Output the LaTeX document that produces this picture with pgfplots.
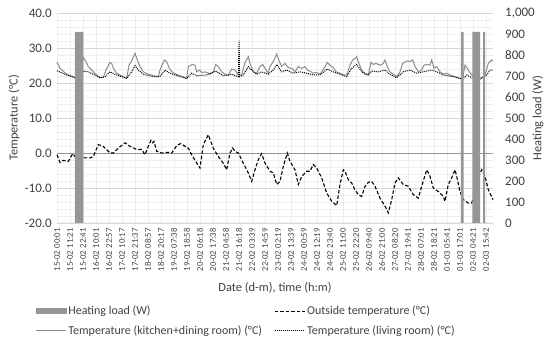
\documentclass[border=0pt]{standalone}
\usepackage{fontspec}
\setmainfont{Carlito}
\usepackage{pgfplots}
\pgfplotsset{compat=1.18}
\definecolor{txt}{RGB}{64,64,64}
\definecolor{kitchen}{RGB}{140,140,140}
\definecolor{heat}{RGB}{150,150,150}
\definecolor{majgrid}{RGB}{215,215,215}
\definecolor{mingrid}{RGB}{238,238,238}
\definecolor{zeroline}{RGB}{150,150,150}
\newcommand{\tsp}{\hspace{2.8pt}}
\pgfplotsset{
  common/.style={
    scale only axis, width=436pt, height=210pt, xmin=0, xmax=436,
    axis line style={draw=none}, tick style={draw=none},
    /pgf/number format/assume math mode=true,
    tick label style={font=\fontsize{13}{15}\selectfont, text=txt},
    label style={font=\fontsize{12.4}{14}\selectfont, text=txt},
    clip=false,
  }
}
\begin{document}
\begin{tikzpicture}
\useasboundingbox (-57pt,-120pt) rectangle (493pt,223pt);
\begin{axis}[common,
  ymin=-20, ymax=40, ytick={-20,-10,...,40}, minor y tick num=4,
  yticklabel style={anchor=east, inner sep=0pt, xshift=-5pt, /pgf/number format/.cd, fixed, fixed zerofill, precision=1},
  xtick={0,13,...,429},
  minor xtick={0,13,...,429},
  xticklabels={15-02\tsp00:01, 15-02\tsp11:21, 15-02\tsp22:41, 16-02\tsp10:01, 16-02\tsp22:57, 17-02\tsp10:17, 17-02\tsp21:37, 18-02\tsp08:57, 18-02\tsp20:17, 19-02\tsp07:38, 19-02\tsp18:58, 20-02\tsp06:18, 20-02\tsp17:38, 21-02\tsp04:58, 21-02\tsp16:18, 22-02\tsp03:39, 22-02\tsp14:59, 23-02\tsp02:19, 23-02\tsp13:39, 24-02\tsp00:59, 24-02\tsp12:19, 24-02\tsp23:40, 25-02\tsp11:00, 25-02\tsp22:20, 26-02\tsp09:40, 26-02\tsp21:00, 27-02\tsp08:20, 27-02\tsp19:41, 28-02\tsp07:01, 28-02\tsp18:21, 01-03\tsp05:41, 01-03\tsp17:01, 02-03\tsp04:21, 02-03\tsp15:42},
  xticklabel style={yshift=-5pt, rotate=90, anchor=east, inner sep=0pt, font=\fontsize{8.7}{10}\selectfont},
  ymajorgrids, yminorgrids, xminorgrids,
  major grid style={draw=majgrid, line width=0.8pt},
  minor grid style={draw=mingrid, line width=0.8pt},
  extra y ticks={0}, extra y tick labels={},
  extra y tick style={grid=major, major grid style={draw=zeroline, line width=0.9pt}},
  ylabel={Temperature (°C)},
  every axis y label/.style={at={(axis description cs:-0.0986,0.5)}, anchor=center, rotate=90, font=\fontsize{12.4}{14}\selectfont, text=txt},
  xlabel={Date (d-m), time (h:m)},
  xlabel style={at={(axis description cs:0.5,-0.31)}, anchor=center},
  legend image code/.code={\draw[#1] (0pt,0pt) -- (30pt,0pt);},
  legend style={at={(axis description cs:-0.05,-0.385)}, anchor=north west, draw=none, fill=none,
    font=\fontsize{12}{14}\selectfont, text=txt, inner sep=0pt, row sep=5.5pt,
    /tikz/every even column/.append style={column sep=10pt}},
  legend columns=2, legend cell align=left,
]
\addlegendimage{legend image code/.code={\fill[heat] (0pt,-2.5pt) rectangle (30pt,2.5pt);}}
\addlegendentry{Heating load (W)}
\addplot[black, line width=1.1pt, dash pattern=on 3.5pt off 2pt] coordinates {
(0,-0.5) (3,-2.7) (6.3,-2.1) (11.3,-2.4) (15.7,-0.2) (18,-1.0) (23,-1.1) (28,-1.4) (33,-1.4) (36.3,-1.0)
(41.3,2.4) (46.3,1.9) (53,0) (56.3,0) (61.3,1.4) (68,2.9) (73,1.9) (79.7,1.0) (84.7,1.0) (88,-0.5)
(91.3,1.9) (94,3.6) (95.7,2.9) (97,3.3) (99.7,0.5) (104.7,0) (111.3,0.2) (114.7,0) (119.7,2.1) (123.7,2.7)
(128,1.9) (131.3,1.4) (134.7,-0.5) (139.7,-2.9) (143,-4.3) (146.3,2.4) (151.3,5.2) (156.3,1.4) (161.3,-1.0) (166.3,-2.9)
(169.7,-4.8) (173,0) (175.7,1.4) (178,0.5) (181.3,0) (186.3,-2.9) (191.3,-5.7) (194.7,-8.1) (198,-4.8) (201.3,-1.9)
(204.7,-0.2) (208,-2.9) (213,-5.2) (216.3,-5.7) (219.7,-9.0) (223,-8.1) (226.3,-3.8) (230.3,0) (233,-2.4) (238,-4.8)
(241.3,-9.0) (244.7,-6.7) (249.7,-5.2) (253,-5.2) (256.3,-3.3) (259.7,-4.3) (264.7,-7.1) (269.7,-11.4) (274.7,-13.8) (279.7,-15.0)
(283,-9.0) (286.3,-4.8) (288,-5.2) (291.3,-7.6) (294.7,-8.6) (298,-10.5) (301.3,-11.9) (304.7,-12.4) (308,-9.5) (311.3,-8.4)
(314.7,-8.1) (318,-9.5) (323,-12.9) (328,-15.2) (331.3,-17.1) (334.7,-13.3) (338,-8.6) (341.3,-7.1) (346.3,-9.0) (351.3,-9.5)
(356.3,-11.9) (361.3,-12.9) (364.7,-9.5) (369.7,-4.8) (373,-6.7) (376.3,-10.0) (381.3,-11.0) (386.3,-12.4) (388,-13.8) (391.3,-9.0)
(394.7,-7.1) (398,-4.8) (399.7,-6.7) (403,-11.0) (406.3,-13.3) (411.3,-14.3) (414.7,-14.3) (418,-11.0) (421.3,-7.1) (424.7,-4.8)
(428,-6.7) (431.3,-10.5) (436,-13.3)};
\addlegendentry{Outside temperature (°C)}
\addplot[kitchen, line width=1pt] coordinates {
(0,25.9) (3,24.2) (9.7,22.5) (18,21.6) (21.3,21.8) (23.7,24.2) (26.3,27.3) (29,26.1) (31.3,24.7) (34.7,23.7)
(39.7,22.3) (43,21.5) (46.3,21.6) (49,23.7) (53,25.9) (54.7,25.6) (56.3,24.2) (59.7,22.8) (64.7,22.0) (69.7,21.3)
(72,25.1) (74.7,26.3) (78,28.5) (80.3,26.6) (83,24.7) (86.3,23.2) (91.3,22.5) (96.3,22.1) (101.3,21.8) (103,23.7)
(107.3,26.6) (109.7,26.1) (112.3,24.2) (116.3,22.8) (121.3,22.3) (126.3,21.8) (129.7,21.3) (131.3,24.7) (135.7,25.3) (138,25.1)
(139.7,23.2) (143,23.7) (144.7,23.0) (148,23.2) (151.3,22.8) (153,22.5) (156.3,23.2) (158.7,25.3) (161.3,24.7) (164.7,23.2)
(168,22.5) (171.3,22.1) (174.7,24.0) (178,23.7) (181.3,22.3) (184.7,22.3) (188,25.9) (191.3,27.5) (193,25.6) (196.3,23.2)
(199.7,22.8) (203,24.7) (205.7,25.3) (208,24.2) (211.3,22.8) (213,24.7) (216.3,26.1) (219.7,28.3) (222.3,26.1) (224.7,24.7)
(228,25.6) (231.3,24.4) (234.7,24.2) (238,23.2) (241.3,24.7) (244.7,24.2) (248,24.7) (250.3,23.7) (253,23.4) (256.3,22.8)
(259.7,23.0) (263,22.5) (264.7,23.2) (267.3,24.2) (270.3,25.9) (273,25.1) (276.3,24.4) (279,23.2) (283,22.8) (286.3,22.3)
(289.7,22.3) (293,25.1) (295.7,26.6) (298,27.0) (299.7,27.5) (301.3,26.1) (304.7,23.7) (308,22.5) (311.3,22.3) (314,25.9)
(316.3,25.3) (319,25.6) (321.3,25.3) (323.7,25.1) (326.3,25.6) (328,26.6) (330.3,24.7) (333,23.2) (336.3,22.5) (339.7,21.8)
(343,23.2) (345.7,25.6) (349.7,26.3) (353,26.1) (355.7,26.6) (358,24.7) (361.3,23.2) (364.7,23.7) (367,25.1) (369.7,25.3)
(373,25.1) (374.7,26.6) (377,24.2) (379.7,24.7) (383,23.2) (386.3,22.5) (389.7,22.8) (393,22.3) (398,21.8) (403,21.3)
(405.7,21.3) (408,25.1) (411.3,23.7) (414.7,22.3) (419.7,21.5) (424.7,21.5) (428,22.3) (431.3,25.6) (434.7,26.6) (436,26.3)};
\addlegendentry{Temperature (kitchen+dining room) (°C)}
\addplot[black, line width=1pt, dash pattern=on 1pt off 1pt] coordinates {
(0,23.5) (9.7,22.3) (18,21.5) (24.7,22.3) (26.3,23.4) (31.3,23.2) (36.3,22.5) (43,21.5) (48,21.8) (53,23.2)
(58,22.5) (69.7,21.3) (74.7,23.2) (78,25.0) (81.3,23.7) (86.3,22.5) (96.3,21.8) (103,21.8) (108,23.7) (113,22.8)
(123,21.8) (129.7,21.3) (134.7,22.8) (139.7,22.1) (149.7,22.3) (158.7,23.4) (166.3,22.1) (174.7,22.5) (181.3,21.8) (182.1,32.1)
(182.6,21.8) (186.3,22.3) (191.3,24.7) (194.7,23.7) (199.7,22.5) (204.7,23.2) (211.3,22.5) (216.3,23.7) (219.7,25.3) (224.7,23.2)
(229.7,23.7) (236.3,22.8) (243,23.2) (249.7,22.8) (256.3,22.3) (263,22.3) (270.3,24.0) (276.3,23.2) (289.7,21.8) (294.7,24.2)
(299.7,25.3) (304.7,23.2) (311.3,22.3) (314.7,23.4) (321.3,23.2) (328,23.7) (333,22.5) (339.7,21.5) (346.3,23.2) (353,23.7)
(359.7,22.8) (366.3,23.2) (374.7,23.7) (379.7,23.2) (386.3,22.3) (396.3,21.8) (405.7,21.1) (409.7,22.3) (414.7,21.5) (423,21.1)
(429.7,22.3) (433,23.7) (436,23.7)};
\addlegendentry{Temperature (living room) (°C)}
\end{axis}
\begin{axis}[common, hide x axis, axis y line*=right,
  ymin=0, ymax=1000, ytick={0,100,...,1000},
  yticklabel style={anchor=west, inner sep=0pt, xshift=12pt, /pgf/number format/.cd, fixed, precision=0, 1000 sep={,}},
  ylabel={Heating load (W)},
  every axis y label/.style={at={(axis description cs:1.103,0.5)}, anchor=center, rotate=90, font=\fontsize{12.4}{14}\selectfont, text=txt},
]
\addplot[const plot, fill=heat, draw=none] coordinates {
(0,0) (18,910) (26.3,0) (404,910) (406.7,0) (415.3,910) (423,0) (426,910) (428,0) (436,0)} \closedcycle;
\end{axis}
\end{tikzpicture}
\end{document}
